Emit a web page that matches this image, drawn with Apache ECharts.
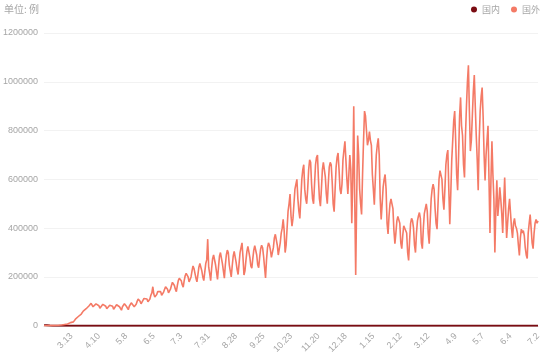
<!DOCTYPE html>
<html><head><meta charset="utf-8">
<script src="https://cdn.jsdelivr.net/npm/echarts@6/dist/echarts.min.js"></script>
<style>html,body{margin:0;padding:0;background:#fff}#c{width:550px;height:356px}</style>
</head><body><div id="c"></div>
<script>
// categories: daily from 2020-02-14 to 2021-07-02
const startDate = [2020, 2, 14];
const dayCount = 505;
const seriesNames = ['国内', '国外'];
const yTicks = [0, 200000, 400000, 600000, 800000, 1000000, 1200000];

const abroad = [
100,200,150,200,300,400,500,
500,600,500,800,900,1200,1500,
1800,2000,1800,2500,3000,3500,4000,
5000,5500,5000,7000,9000,11000,13000,
16000,17000,16000,22000,27000,30000,33000,
38000,40000,38000,48000,55000,60000,65000,
68000,70000,62000,75000,82000,88000,92000,
88000,78000,70000,80000,90000,96000,92000,
82000,72000,64000,76000,88000,92000,85000,
80000,70000,62000,74000,84000,90000,86000,
80000,68000,60000,76000,86000,88000,84000,
78000,70000,64000,78000,86000,90000,86000,
80000,72000,66000,80000,88000,94000,90000,
90000,78000,72000,88000,100000,110000,104000,
100000,90000,84000,98000,112000,120000,115000,
110000,98000,92000,110000,125000,135000,160000,
130000,118000,110000,128000,140000,148000,145000,
140000,125000,118000,138000,150000,160000,158000,
150000,135000,128000,150000,165000,178000,175000,
165000,150000,140000,165000,185000,195000,190000,
185000,168000,158000,185000,205000,215000,210000,
200000,180000,172000,200000,225000,245000,235000,
215000,195000,180000,210000,240000,255000,250000,
225000,200000,185000,220000,255000,270000,355000,
240000,215000,185000,235000,275000,290000,285000,
250000,220000,190000,240000,285000,300000,295000,
255000,225000,195000,250000,290000,310000,300000,
250000,225000,200000,245000,285000,305000,300000,
260000,230000,210000,255000,300000,320000,340000,
280000,208000,225000,268000,305000,325000,320000,
280000,245000,236000,275000,310000,328000,320000,
290000,250000,238000,280000,315000,330000,320000,
285000,240000,196000,270000,320000,340000,330000,
310000,280000,276000,320000,360000,375000,370000,
330000,290000,285000,340000,380000,400000,436000,
390000,300000,330000,400000,470000,500000,540000,
450000,408000,440000,500000,560000,580000,600000,
520000,470000,440000,520000,600000,640000,660000,
560000,520000,500000,560000,640000,680000,670000,
580000,520000,500000,580000,660000,690000,700000,
600000,520000,490000,560000,640000,670000,670000,
610000,540000,500000,580000,650000,670000,660000,
590000,500000,468000,560000,650000,690000,708000,
640000,560000,540000,580000,680000,720000,756000,
680000,600000,540000,620000,700000,640000,420000,
600000,900000,520000,208000,520000,780000,700000,
560000,500000,456000,620000,760000,880000,860000,
800000,740000,760000,796000,760000,740000,620000,
560000,496000,600000,700000,740000,768000,700000,
520000,436000,500000,568000,600000,620000,560000,
420000,376000,450000,500000,520000,500000,480000,
390000,336000,380000,430000,448000,440000,420000,
340000,316000,370000,410000,416000,410000,380000,
300000,268000,350000,420000,440000,430000,400000,
330000,300000,380000,430000,450000,464000,440000,
340000,316000,400000,460000,480000,500000,470000,
380000,336000,430000,520000,560000,580000,560000,
480000,420000,396000,500000,600000,636000,640000,
600000,520000,476000,560000,660000,700000,720000,
560000,416000,540000,680000,760000,840000,880000,
760000,620000,556000,700000,860000,936000,820000,
780000,660000,608000,780000,900000,1000000,1068000,
880000,716000,760000,860000,960000,1028000,900000,
780000,680000,556000,760000,880000,940000,976000,
860000,700000,596000,700000,760000,820000,600000,
380000,600000,756000,620000,520000,300000,480000,
596000,450000,500000,568000,520000,460000,380000,
500000,608000,480000,360000,420000,480000,520000,
460000,400000,360000,420000,440000,410000,400000,
380000,330000,288000,360000,396000,380000,390000,
370000,320000,290000,276000,380000,420000,456000,
400000,340000,316000,380000,420000,436000,420000,
430000
];

const domestic = [
2641,2009,2048,1886,1749,394,889,
397,648,409,508,406,433,327,
427,573,202,125,119,139,143,
99,44,40,19,24,15,8,
11,20,16,21,13,34,39,
41,46,39,78,47,67,55,
54,45,31,35,31,26,35,
19,25,30,39,32,62,42,
46,99,108,97,46,26,27,
17,18,16,11,10,12,11,
6,3,2,6,2,4,2,
3,1,2,4,1,3,14,
1,1,1,4,3,7,3,
5,4,3,5,4,3,2,
1,2,3,5,4,2,3,
1,3,2,5,6,2,3,
4,2,1,3,7,12,36,
50,27,22,25,28,17,19,
11,15,21,13,14,17,3,
5,3,1,4,3,2,8,
7,4,3,8,7,14,20,
13,34,37,41,44,36,27,
30,26,24,27,35,28,34,
39,32,38,45,31,21,27,
22,16,11,14,14,11,7,
10,9,6,4,2,3,5,
2,1,3,1,2,0,1,
0,2,1,0,1,2,0,
1,0,0,2,1,0,0,
1,0,1,0,0,1,0,
0,0,1,0,0,0,0,
0,1,0,0,0,0,0,
0,0,0,1,0,0,0,
0,1,0,0,0,0,0,
0,0,0,0,0,1,0,
1,3,0,5,21,4,1,
1,4,1,2,0,0,0,
0,0,1,1,0,1,2,
4,2,1,3,4,5,7,
6,6,4,5,3,4,4,
3,4,6,7,5,8,14,
13,12,14,15,14,12,9,
18,20,19,24,17,16,12,
9,11,15,20,32,56,82,
85,72,69,54,63,77,89,
103,118,139,144,124,109,90,
108,135,124,103,86,72,68,
37,47,34,30,22,14,10,
6,10,8,5,5,4,2,
1,1,0,0,0,1,0,
0,0,0,0,0,0,0,
0,0,0,0,0,0,0,
0,0,0,0,0,0,0,
0,0,0,0,0,0,0,
0,0,0,0,0,0,0,
0,0,1,2,0,0,0,
0,0,0,0,0,0,0,
2,0,0,0,0,1,0,
3,0,0,0,1,0,1,
0,5,0,0,6,0,0,
1,0,0,0,0,1,0,
2,4,6,8,7,5,3,
6,11,12,8,7,12,15,
19,21,23,22,15,12,8,
5,4,6,6,5,4,3,
2,2,1,1,2,3,1,
0,1,0,2,7,2,3,
2,1,2,6,5,3,2,
7,2,4,11,9,8,7,
11,10,9,6,7,3,6,
4,1,1,4,2,5,2,
1,2,0,3,1,0,1,
1
];

const categories = [];
(function () {
  const d = new Date(startDate[0], startDate[1] - 1, startDate[2]);
  for (let i = 0; i < dayCount; i++) {
    categories.push((d.getMonth() + 1) + '.' + d.getDate());
    d.setDate(d.getDate() + 1);
  }
})();

const chart = echarts.init(document.getElementById('c'), null, {renderer: 'canvas'});
chart.setOption({
  animation: false,
  title: {
    text: '单位: 例', left: 4, top: 4, padding: 0,
    textStyle: {fontSize: 10, color: '#a6a6a6', fontWeight: 'normal', fontFamily: 'Noto Sans CJK SC'}
  },
  legend: {
    right: 10, top: 5, padding: 0, icon: 'circle', itemWidth: 6, itemHeight: 6, itemGap: 11,
    textStyle: {fontSize: 9, color: '#a6a6a6', fontFamily: 'Noto Sans CJK SC'},
    data: seriesNames
  },
  grid: {left: 40, right: 12, top: 33, bottom: 24, containLabel: false},
  xAxis: {
    type: 'category', data: categories, boundaryGap: false,
    axisLine: {lineStyle: {color: '#dddddd'}},
    axisTick: {show: false},
    axisLabel: {
      rotate: 45, fontSize: 9, color: '#a6a6a6', margin: 9,
      interval: function (i) { return i > 0 && i % 28 === 0; }
    },
    splitLine: {show: false}
  },
  yAxis: {
    type: 'value', min: yTicks[0], max: yTicks[yTicks.length - 1], interval: yTicks[1] - yTicks[0],
    axisLine: {show: false}, axisTick: {show: false},
    axisLabel: {fontSize: 9, color: '#a6a6a6', margin: 6, formatter: function (v) { return String(v); }},
    splitLine: {lineStyle: {color: '#f2f2f2'}}
  },
  series: [
    {name: seriesNames[0], type: 'line', data: domestic, showSymbol: false, symbol: 'circle',
     lineStyle: {width: 2, color: '#7a0c12'}, itemStyle: {color: '#7a0c12'}},
    {name: seriesNames[1], type: 'line', data: abroad, showSymbol: false, symbol: 'circle',
     lineStyle: {width: 1.6, color: '#f47a66'}, itemStyle: {color: '#f47a66'}}
  ]
});
</script></body></html>
